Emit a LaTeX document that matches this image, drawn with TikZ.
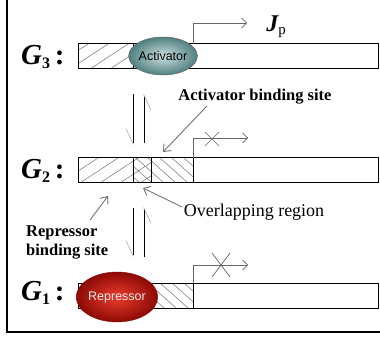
\documentclass[tikz,border=0pt]{standalone}
\usepackage{fontspec}
\setmainfont{Liberation Serif}
\setsansfont{Liberation Sans}
\usetikzlibrary{arrows.meta,shapes.geometric}
\definecolor{actin}{RGB}{205,224,224}
\definecolor{actout}{RGB}{80,128,128}
\definecolor{repin}{RGB}{235,60,45}
\definecolor{repout}{RGB}{140,10,5}
\begin{document}
\begin{tikzpicture}[x=1pt,y=-1pt,
  barbox/.style={draw=black, line width=1pt},
  divider/.style={draw=black, line width=0.8pt},
  hatchline/.style={draw=black!55, line width=0.5pt},
  promoter/.style={draw=black!60, line width=0.8pt, -{Straight Barb[length=5pt,width=10pt,line width=0.7pt]}},
  pointer/.style={draw=black!55, line width=0.9pt, -{Straight Barb[length=6pt,width=10pt,line width=0.9pt]}},
  harpoon/.style={draw=black, line width=0.8pt, -{Straight Barb[right,length=15pt,width=14pt,line width=0.6pt,color=black!35]}},
  crossmark/.style={draw=black!60, line width=0.7pt},
  glabel/.style={anchor=west, inner sep=0pt, font=\fontsize{29}{29}\selectfont\bfseries},
  sitelabel/.style={inner sep=0pt, font=\fontsize{16.5}{19}\selectfont\bfseries},
]
\useasboundingbox (0,0) rectangle (380,339);
% frame
\draw[line width=1.2pt] (7,0) -- (7,332) -- (380,332);

% ---------- G3 ----------
\begin{scope}
\clip (78,44) rectangle (133,69);
\foreach \x in {50,70,...,150} \draw[hatchline] (\x,69) -- ++(38,-25);
\end{scope}
\draw[barbox] (78,44) rectangle (378,69);
\draw[divider] (133,44) -- (133,69);
\coordinate (p3) at (193,44);
\coordinate (p3t) at (193,23);
\coordinate (p3e) at (247,23);
\draw[promoter] (p3) -- (p3t) -- (p3e);
\node[ellipse, minimum width=60pt, minimum height=38pt, inner sep=0pt, draw=black!60, line width=0.5pt,
      inner color=actin, outer color=actout,
      font=\sffamily\fontsize{12.5}{12.5}\selectfont] (act) at (163,56) {Activator};
\node[anchor=center, inner sep=0pt] (jp) at (276,27) {\fontsize{24}{24}\selectfont\bfseries\itshape J\fontsize{15}{15}\selectfont\upshape\mdseries\raisebox{-3pt}{p}};
\node[glabel] (g3) at (21,57) {\itshape G\upshape\raisebox{-4pt}{\fontsize{16}{16}\selectfont 3}\,:};

% ---------- G2 ----------
\begin{scope}
\clip (78,158) rectangle (151,183);
\foreach \x in {40,60,...,160} \draw[hatchline] (\x,183) -- ++(38,-25);
\end{scope}
\begin{scope}
\clip (133,158) rectangle (193,183);
\foreach \x in {100,112,...,200} \draw[hatchline] (\x,158) -- ++(28,25);
\end{scope}
\draw[barbox] (78,158) rectangle (378,183);
\draw[divider] (133,158) -- (133,183);
\draw[divider] (151,158) -- (151,183);
\draw[divider] (193,158) -- (193,183);
\coordinate (p2) at (193,158);
\coordinate (p2t) at (193,138);
\coordinate (p2e) at (248,138);
\draw[promoter] (p2) -- (p2t) -- (p2e);
\coordinate (x2) at (212,139);
\draw[crossmark] ([shift={(-7,-7)}]x2) -- ([shift={(7,7)}]x2);
\draw[crossmark] ([shift={(-7,7)}]x2) -- ([shift={(7,-7)}]x2);
\node[glabel] (g2) at (21,171) {\itshape G\upshape\raisebox{-4pt}{\fontsize{16}{16}\selectfont 2}\,:};

% ---------- G1 ----------
\begin{scope}
\clip (78,283) rectangle (193,308);
\foreach \x in {100,112,...,200} \draw[hatchline] (\x,283) -- ++(28,25);
\end{scope}
\draw[barbox] (78,283) rectangle (378,308);
\draw[divider] (193,283) -- (193,308);
\coordinate (p1) at (193,283);
\coordinate (p1t) at (193,265);
\coordinate (p1e) at (248,265);
\draw[promoter] (p1) -- (p1t) -- (p1e);
\coordinate (x1) at (221,265);
\draw[crossmark] ([shift={(-9,-12)}]x1) -- ([shift={(9,12)}]x1);
\draw[crossmark] ([shift={(-9,12)}]x1) -- ([shift={(9,-12)}]x1);
\node[ellipse, minimum width=74pt, minimum height=50pt, inner sep=0pt, draw=repout, line width=0.4pt,
      inner color=repin, outer color=repout,
      text=black!8, font=\sffamily\fontsize{12.5}{12.5}\selectfont] (rep) at (117,297) {Repressor};
\node[glabel] (g1) at (21,293) {\itshape G\upshape\raisebox{-4pt}{\fontsize{16}{16}\selectfont 1}\,:};

% ---------- equilibrium harpoons ----------
\coordinate (ua) at (133,94);  \coordinate (ub) at (133,145);
\coordinate (uc) at (144,143); \coordinate (ud) at (144,94);
\draw[harpoon] (ua) -- (ub);
\draw[harpoon] (uc) -- (ud);
\coordinate (la) at (133,208); \coordinate (lb) at (133,257);
\coordinate (lc) at (144,257); \coordinate (ld) at (144,207);
\draw[harpoon] (la) -- (lb);
\draw[harpoon] (lc) -- (ld);

% ---------- labels ----------
\node[sitelabel] (abs) at (255,97) {Activator binding site};
\coordinate (abs1) at (207,106); \coordinate (abs2) at (163,152);
\draw[pointer] (abs1) -- (abs2);
\node[inner sep=0pt, font=\fontsize{18}{18}\selectfont] (ovl) at (254,212) {Overlapping region};
\coordinate (ov1) at (182,207); \coordinate (ov2) at (143,188);
\draw[pointer] (ov1) -- (ov2);
\node[sitelabel, anchor=west, align=left] (rbs) at (26,242) {Repressor\\binding site};
\coordinate (rb1) at (90,220); \coordinate (rb2) at (108,196);
\draw[pointer] (rb1) -- (rb2);
\end{tikzpicture}
\end{document}
